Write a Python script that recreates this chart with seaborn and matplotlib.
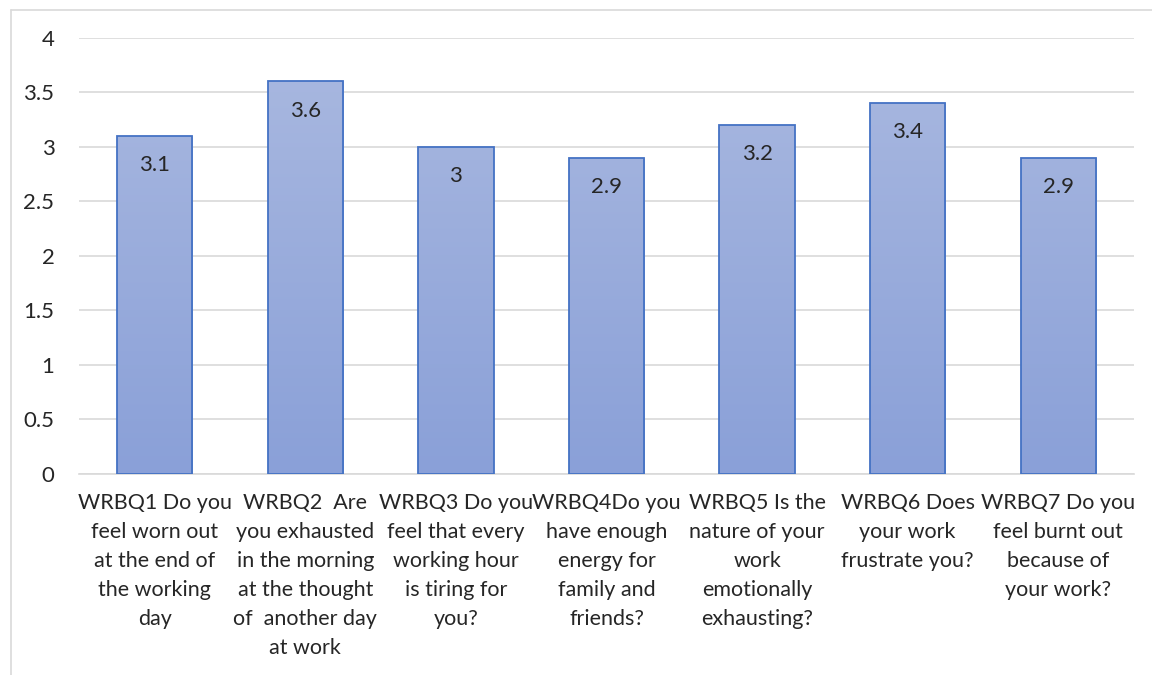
import numpy as np
import pandas as pd
import matplotlib
matplotlib.use("Agg")
import matplotlib.pyplot as plt
import seaborn as sns
from matplotlib.lines import Line2D
from matplotlib.colors import LinearSegmentedColormap

categories = [
    "WRBQ1 Do you\nfeel worn out\nat the end of\nthe working\nday",
    "WRBQ2  Are\nyou exhausted\nin the morning\nat the thought\nof  another day\nat work",
    "WRBQ3 Do you\nfeel that every\nworking hour\nis tiring for\nyou?",
    "WRBQ4Do you\nhave enough\nenergy for\nfamily and\nfriends?",
    "WRBQ5 Is the\nnature of your\nwork\nemotionally\nexhausting?",
    "WRBQ6 Does\nyour work\nfrustrate you?",
    "WRBQ7 Do you\nfeel burnt out\nbecause of\nyour work?",
]
values = [3.1, 3.6, 3.0, 2.9, 3.2, 3.4, 2.9]
value_labels = ["3.1", "3.6", "3", "2.9", "3.2", "3.4", "2.9"]
yticks = [0, 0.5, 1, 1.5, 2, 2.5, 3, 3.5, 4]
ytick_labels = ["0", "0.5", "1", "1.5", "2", "2.5", "3", "3.5", "4"]

sns.set_theme(style="white")
plt.rcParams['font.family'] = ['Lato', 'DejaVu Sans']

fig = plt.figure(figsize=(11.52, 6.75), dpi=100)
ax = fig.add_axes([0.069, 0.298, 0.915, 0.646])

df = pd.DataFrame({"cat": categories, "val": values})
sns.barplot(data=df, x="cat", y="val", ax=ax, color="#9AADDC", width=0.5,
            edgecolor="#4472C4", linewidth=1.3, saturation=1, zorder=3)

ax.set_ylim(0, 4)
ax.set_yticks(yticks)
ax.set_yticklabels(ytick_labels, fontsize=16, color="#262626")
ax.set_xlim(-0.5, len(categories) - 0.5)
ax.set_xlabel("")
ax.set_ylabel("")
ax.tick_params(axis="x", labelsize=15.5, colors="#262626", length=0, pad=14)
ax.tick_params(axis="y", length=0, pad=18)
for lab in ax.get_xticklabels():
    lab.set_linespacing(1.56)
ax.yaxis.grid(True, color="#D9D9D9", linewidth=1.2, zorder=0)
ax.xaxis.grid(False)
for s in ["top", "right", "left"]:
    ax.spines[s].set_visible(False)
ax.spines["bottom"].set_color("#D9D9D9")
ax.spines["bottom"].set_linewidth(1.2)

cmap = LinearSegmentedColormap.from_list("g", ["#8AA0D8", "#AAB9E0"])
grad = np.linspace(0, 1, 256).reshape(-1, 1)
for p in ax.patches:
    x0 = p.get_x()
    w = p.get_width()
    im = ax.imshow(grad, cmap=cmap, origin="lower", aspect="auto",
                   extent=[x0, x0 + w, 0, 4], zorder=3.5)
    im.set_clip_path(p)
    p.set_facecolor("none")
    p.set_zorder(4)
ax.set_xlim(-0.5, len(categories) - 0.5)
ax.set_ylim(0, 4)

for i, (v, t) in enumerate(zip(values, value_labels)):
    ax.annotate(t, xy=(i, v), xytext=(0, -21), textcoords="offset points",
                ha="center", va="center", fontsize=16, color="#262626", zorder=5)

bx = 10.5 / 1152
by = 1 - 9.5 / 675
fig.lines.append(Line2D([bx, 1], [by, by], transform=fig.transFigure,
                        color="#D9D9D9", linewidth=1.2))
fig.lines.append(Line2D([bx, bx], [0, by], transform=fig.transFigure,
                        color="#D9D9D9", linewidth=1.2))

fig.savefig("out.png", dpi=100)
